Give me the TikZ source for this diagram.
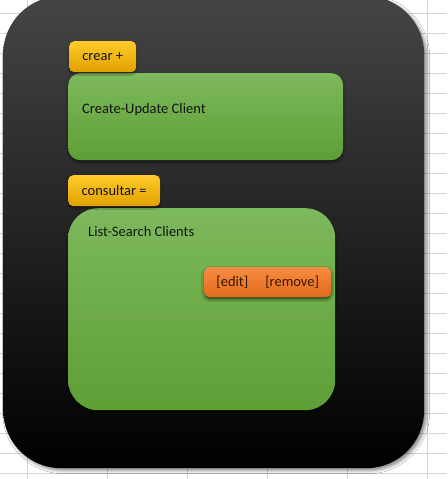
\documentclass[tikz,border=0pt]{standalone}
\usepackage{fontspec}
\setmainfont{Carlito}
\usetikzlibrary{shadows.blur}

\definecolor{gridline}{HTML}{D4D4D4}
\definecolor{paneltop}{HTML}{454545}
\definecolor{greentop}{HTML}{7DB95D}
\definecolor{greenbot}{HTML}{5F9E35}
\definecolor{goldtop}{HTML}{FFCB2A}
\definecolor{goldbot}{HTML}{E0A000}
\definecolor{orangetop}{HTML}{F68D42}
\definecolor{orangebot}{HTML}{E2691B}
\definecolor{inktext}{HTML}{141414}
\definecolor{browntext}{HTML}{3A1800}

\tikzset{
  basefont/.style={font=\fontsize{14.5}{17}\selectfont},
  panel/.style={draw=none, rounded corners=58pt, inner sep=0pt,
    top color=paneltop, middle color=black, bottom color=black,
    blur shadow={shadow xshift=2.5pt, shadow yshift=-2.5pt,
      shadow blur radius=3pt, shadow opacity=45}},
  card/.style={draw=none, inner sep=0pt,
    top color=greentop, bottom color=greenbot,
    blur shadow={shadow xshift=0pt, shadow yshift=-2pt,
      shadow blur radius=2.5pt, shadow opacity=55}},
  tab/.style={draw=none, rounded corners=5pt, inner sep=0pt,
    top color=goldtop, bottom color=goldbot, basefont, text=inktext,
    blur shadow={shadow xshift=0pt, shadow yshift=-1.5pt,
      shadow blur radius=2pt, shadow opacity=60}},
  action/.style={draw=none, rounded corners=5pt, inner sep=0pt,
    top color=orangetop, bottom color=orangebot, basefont, text=browntext,
    blur shadow={shadow xshift=0pt, shadow yshift=-2pt,
      shadow blur radius=2.5pt, shadow opacity=60}},
  caption/.style={basefont, text=inktext, inner sep=0pt, anchor=west},
}

\begin{document}
\begin{tikzpicture}[x=1pt, y=-1pt]
  % sheet background with cell grid
  \path[use as bounding box, fill=white] (0,0) rectangle (447,479);
  \foreach \gx in {27,107,...,427} \draw[gridline, line width=0.8pt] (\gx,0) -- (\gx,479);
  \foreach \gy in {13,33,...,473} \draw[gridline, line width=0.8pt] (0,\gy) -- (447,\gy);

  % outer dark frame
  \node[panel, minimum width=421pt, minimum height=472pt, anchor=north west] (frame) at (3,-4) {};

  % create / update section
  \node[card, rounded corners=12pt, minimum width=275pt, minimum height=87pt,
        anchor=north west] (createcard) at (68,73) {};
  \node[tab, minimum width=67pt, minimum height=31pt, anchor=north west] (creartab) at (69,41) {crear +};
  \node[caption] (createtext) at (82,110) {Create-Update Client};

  % list / search section
  \node[card, rounded corners=30pt, minimum width=267pt, minimum height=202pt,
        anchor=north west] (listcard) at (68,208) {};
  \node[tab, minimum width=92pt, minimum height=31pt, anchor=north west] (consultab) at (68,175) {consultar =};
  \node[caption] (listtext) at (88,232) {List-Search Clients};

  % row actions
  \node[action, minimum width=127pt, minimum height=30pt, anchor=north west] (actions) at (204,267)
       {[edit]\hspace*{17pt}[remove]};
\end{tikzpicture}
\end{document}
